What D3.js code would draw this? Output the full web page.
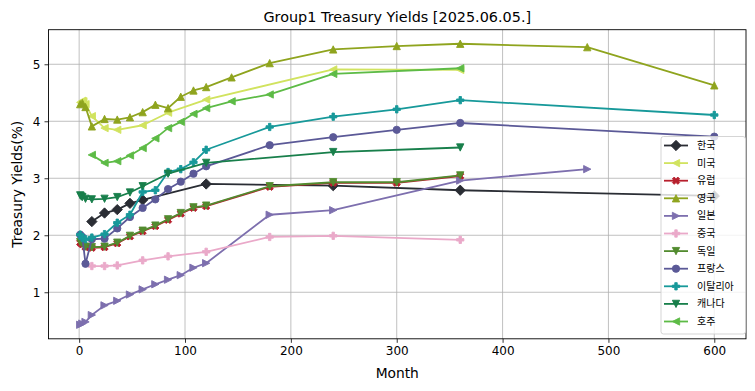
<!DOCTYPE html>
<html>
<head>
<meta charset="utf-8">
<script src="https://cdn.jsdelivr.net/npm/d3@7"></script>
<style>
  body { margin: 0; background: #fff; }
  text { font-family: "DejaVu Sans", "Noto Sans CJK KR", sans-serif; }
</style>
</head>
<body>
<div id="chart"></div>
<script>
const width = 755;
const height = 391;
const margin = {top: 29.7, right: 9, bottom: 52.2, left: 48.5};

// Series names (legend order)
const countries = ["한국", "미국", "유럽", "영국", "일본", "중국", "독일", "프랑스", "이탈리아", "캐나다", "호주"];

// Maturities in months and yields in %
const monthsKR = [12, 24, 36, 48, 60, 120, 240, 360, 600];
const yieldsKR = [2.24, 2.39, 2.45, 2.56, 2.62, 2.90, 2.87, 2.79, 2.69];

const monthsUS = [1, 2, 3, 4, 6, 12, 24, 36, 60, 84, 120, 240, 360];
const yieldsUS = [4.33, 4.34, 4.36, 4.35, 4.30, 4.09, 3.88, 3.85, 3.93, 4.15, 4.38, 4.91, 4.90];

const monthsEU = [1, 3, 6, 12, 24, 36, 48, 60, 72, 84, 96, 108, 120, 180, 240, 300, 360];
const yieldsEU = [1.87, 1.84, 1.79, 1.78, 1.79, 1.86, 1.98, 2.07, 2.16, 2.27, 2.38, 2.48, 2.51, 2.85, 2.92, 2.92, 3.04];

const monthsUK = [1, 3, 6, 12, 24, 36, 48, 60, 72, 84, 96, 108, 120, 144, 180, 240, 300, 360, 480, 600];
const yieldsUK = [4.30, 4.32, 4.25, 3.91, 4.04, 4.03, 4.07, 4.16, 4.29, 4.23, 4.43, 4.54, 4.60, 4.77, 5.02, 5.26, 5.32, 5.36, 5.30, 4.63];

const monthsJP = [1, 3, 6, 12, 24, 36, 48, 60, 72, 84, 96, 108, 120, 180, 240, 360, 480];
const yieldsJP = [0.43, 0.45, 0.48, 0.60, 0.77, 0.85, 0.96, 1.05, 1.14, 1.22, 1.30, 1.43, 1.51, 2.36, 2.44, 2.96, 3.16];

const monthsCN = [12, 24, 36, 60, 84, 120, 180, 240, 360];
const yieldsCN = [1.46, 1.46, 1.47, 1.56, 1.63, 1.71, 1.97, 1.99, 1.92];

const monthsDE = [1, 3, 6, 12, 24, 36, 48, 60, 72, 84, 96, 108, 120, 180, 240, 300, 360];
const yieldsDE = [1.88, 1.85, 1.80, 1.79, 1.80, 1.87, 1.99, 2.08, 2.17, 2.28, 2.39, 2.49, 2.52, 2.86, 2.93, 2.93, 3.05];

const monthsFR = [1, 3, 6, 12, 24, 36, 48, 60, 72, 84, 96, 108, 120, 180, 240, 300, 360, 600];
const yieldsFR = [2.01, 1.97, 1.50, 1.93, 1.94, 2.12, 2.32, 2.48, 2.63, 2.81, 2.94, 3.08, 3.21, 3.58, 3.72, 3.85, 3.97, 3.73];

const monthsIT = [1, 3, 6, 12, 24, 36, 48, 60, 72, 84, 96, 108, 120, 180, 240, 300, 360, 600];
const yieldsIT = [2.01, 1.95, 1.93, 1.96, 2.02, 2.22, 2.36, 2.76, 2.79, 3.11, 3.16, 3.28, 3.50, 3.90, 4.08, 4.21, 4.37, 4.11];

const monthsCA = [1, 2, 3, 6, 12, 24, 36, 48, 60, 84, 120, 240, 360];
const yieldsCA = [2.70, 2.68, 2.67, 2.64, 2.63, 2.64, 2.67, 2.75, 2.86, 3.08, 3.27, 3.46, 3.54];

const monthsAU = [12, 24, 36, 48, 60, 72, 84, 96, 108, 120, 144, 180, 240, 360];
const yieldsAU = [3.41, 3.27, 3.30, 3.40, 3.53, 3.70, 3.88, 3.99, 4.13, 4.23, 4.35, 4.47, 4.83, 4.93];

const xTicks = [0, 100, 200, 300, 400, 500, 600];
const yTicks = [1, 2, 3, 4, 5];

// Styles
const colors = ["#2a2d34", "#d1e35f", "#b71f2d", "#8fa41e", "#7d6fae", "#eaa9c9", "#528b2f", "#5b5997", "#17999a", "#187f4b", "#5dbb46"];
const markers = ["D", "<", "X", "^", ">", "P", "v", "o", "P", "v", "<"];

const allMonths = [monthsKR, monthsUS, monthsEU, monthsUK, monthsJP, monthsCN, monthsDE, monthsFR, monthsIT, monthsCA, monthsAU];
const allYields = [yieldsKR, yieldsUS, yieldsEU, yieldsUK, yieldsJP, yieldsCN, yieldsDE, yieldsFR, yieldsIT, yieldsCA, yieldsAU];

const series = countries.map((name, i) => ({
    name: name,
    color: colors[i],
    marker: markers[i],
    values: allMonths[i].map((m, j) => ({month: m, y: allYields[i][j]}))
}));

// Marker shapes, matplotlib-like (s = marker size in px)
function markerPath(type, s) {
    const h = s / 2;
    const poly = pts => "M" + pts.map(p => p[0].toFixed(2) + "," + p[1].toFixed(2)).join("L") + "Z";
    switch (type) {
        case "o": return d3.symbol(d3.symbolCircle, Math.PI * h * h)();
        case "^": return poly([[0, -h], [-h, h], [h, h]]);
        case "v": return poly([[0, h], [-h, -h], [h, -h]]);
        case "<": return poly([[-h, 0], [h, -h], [h, h]]);
        case ">": return poly([[h, 0], [-h, -h], [-h, h]]);
        case "D": { const d = s * Math.SQRT2 / 2; return poly([[0, -d], [d, 0], [0, d], [-d, 0]]); }
        case "P": {
            const k = s / 6;
            return poly([[-1, -3], [1, -3], [1, -1], [3, -1], [3, 1], [1, 1], [1, 3], [-1, 3], [-1, 1], [-3, 1], [-3, -1], [-1, -1]].map(p => [p[0] * k, p[1] * k]));
        }
        case "X": {
            const k = s / 4;
            return poly([[-1, -2], [0, -1], [1, -2], [2, -1], [1, 0], [2, 1], [1, 2], [0, 1], [-1, 2], [-2, 1], [-1, 0], [-2, -1]].map(p => [p[0] * k, p[1] * k]));
        }
    }
}

const svg = d3.select("#chart")
    .append("svg")
    .attr("width", width)
    .attr("height", height);

svg.append("rect")
    .attr("width", width)
    .attr("height", height)
    .attr("fill", "#fff");

const innerW = width - margin.left - margin.right;
const innerH = height - margin.top - margin.bottom;

// matplotlib style 5% padding around data range
const mExt = d3.extent(allMonths.flat());
const yExt = d3.extent(allYields.flat());
const mPad = (mExt[1] - mExt[0]) * 0.05;
const yPad = (yExt[1] - yExt[0]) * 0.05;

const x = d3.scaleLinear()
    .domain([mExt[0] - mPad, mExt[1] + mPad])
    .range([margin.left, margin.left + innerW]);

const y = d3.scaleLinear()
    .domain([yExt[0] - yPad, yExt[1] + yPad])
    .range([margin.top + innerH, margin.top]);

// Grid
svg.append("g")
    .selectAll("line")
    .data(xTicks)
    .enter()
    .append("line")
    .attr("x1", d => x(d)).attr("x2", d => x(d))
    .attr("y1", margin.top).attr("y2", margin.top + innerH)
    .attr("stroke", "#b0b0b0")
    .attr("stroke-width", 0.8);

svg.append("g")
    .selectAll("line")
    .data(yTicks)
    .enter()
    .append("line")
    .attr("x1", margin.left).attr("x2", margin.left + innerW)
    .attr("y1", d => y(d)).attr("y2", d => y(d))
    .attr("stroke", "#b0b0b0")
    .attr("stroke-width", 0.8);

// Axes
const xAxis = svg.append("g")
    .attr("transform", `translate(0,${margin.top + innerH})`)
    .call(d3.axisBottom(x).tickValues(xTicks).tickSize(4).tickPadding(4).tickFormat(d3.format("d")));
const yAxis = svg.append("g")
    .attr("transform", `translate(${margin.left},0)`)
    .call(d3.axisLeft(y).tickValues(yTicks).tickSize(4).tickPadding(4).tickFormat(d3.format("d")));

[xAxis, yAxis].forEach(a => {
    a.select(".domain").remove();
    a.selectAll("text").attr("font-size", 12).attr("fill", "#000")
        .style("font-family", "DejaVu Sans, sans-serif");
    a.selectAll("line").attr("stroke", "#000").attr("stroke-width", 0.8);
});

// Data
const clipId = "plotClip";
svg.append("clipPath").attr("id", clipId)
    .append("rect")
    .attr("x", margin.left).attr("y", margin.top)
    .attr("width", innerW).attr("height", innerH);

const line = d3.line()
    .x(d => x(d.month))
    .y(d => y(d.y));

const plot = svg.append("g").attr("clip-path", `url(#${clipId})`);

series.forEach(s => {
    const g = plot.append("g");
    g.append("path")
        .datum(s.values)
        .attr("d", line)
        .attr("fill", "none")
        .attr("stroke", s.color)
        .attr("stroke-width", 1.8)
        .attr("stroke-linejoin", "round");
    g.selectAll("path.mk")
        .data(s.values)
        .enter()
        .append("path")
        .attr("class", "mk")
        .attr("d", markerPath(s.marker, 7.3))
        .attr("transform", d => `translate(${x(d.month)},${y(d.y)})`)
        .attr("fill", s.color)
        .attr("stroke", s.color)
        .attr("stroke-width", 0.9);
});

// Frame
svg.append("rect")
    .attr("x", margin.left).attr("y", margin.top)
    .attr("width", innerW).attr("height", innerH)
    .attr("fill", "none")
    .attr("stroke", "#000")
    .attr("stroke-width", 0.9);

// Title and labels
svg.append("text")
    .attr("x", margin.left + innerW / 2)
    .attr("y", 22)
    .attr("text-anchor", "middle")
    .attr("font-size", 14.4)
    .text("Group1 Treasury Yields [2025.06.05.]");

svg.append("text")
    .attr("x", margin.left + innerW / 2)
    .attr("y", 378)
    .attr("text-anchor", "middle")
    .attr("font-size", 13.8)
    .text("Month");

svg.append("text")
    .attr("transform", `translate(22,${margin.top + innerH / 2}) rotate(-90)`)
    .attr("text-anchor", "middle")
    .attr("font-size", 13.8)
    .text("Treasury Yields(%)");

// Legend
const legend = svg.append("g");
const lgX = 661, lgY = 136.5, lgW = 84.5, lgH = 197.5, rowH = 17.6;

legend.append("rect")
    .attr("x", lgX).attr("y", lgY)
    .attr("width", lgW).attr("height", lgH)
    .attr("rx", 2.5)
    .attr("fill", "#fff")
    .attr("fill-opacity", 0.8)
    .attr("stroke", "#d0d0d0")
    .attr("stroke-width", 0.9);

const rows = legend.selectAll("g.row")
    .data(series)
    .enter()
    .append("g")
    .attr("class", "row")
    .attr("transform", (d, i) => `translate(${lgX},${lgY + 9 + i * rowH})`);

rows.append("line")
    .attr("x1", 3).attr("x2", 27)
    .attr("stroke", d => d.color)
    .attr("stroke-width", 1.8);

rows.append("path")
    .attr("d", d => markerPath(d.marker, 7.3))
    .attr("transform", "translate(15,0)")
    .attr("fill", d => d.color)
    .attr("stroke", d => d.color)
    .attr("stroke-width", 0.9);

rows.append("text")
    .attr("x", 36)
    .attr("y", 0)
    .attr("dy", "0.35em")
    .attr("font-size", 10)
    .style("font-family", "Noto Sans CJK KR, sans-serif")
    .text(d => d.name);
</script>
</body>
</html>
